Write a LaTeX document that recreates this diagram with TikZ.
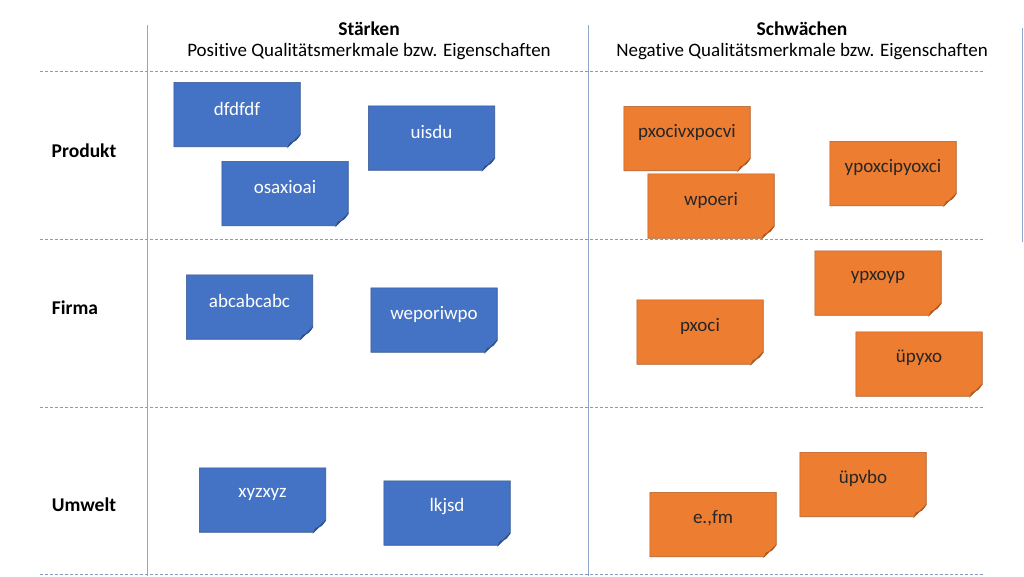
\documentclass[tikz,border=0pt]{standalone}
\usepackage{fontspec}
\setmainfont{Carlito}[Ligatures=NoCommon]
\definecolor{nblue}{HTML}{4472C4}
\definecolor{nbluedark}{HTML}{2F528F}
\definecolor{norange}{HTML}{ED7D31}
\definecolor{norangedark}{HTML}{AE5A21}
\definecolor{gridline}{HTML}{8EA6CC}
\definecolor{dashline}{HTML}{8C9CB4}
\newcommand\notebox[7]{%
  \node[notebase] (#1) at (#2,#3) {};
  \filldraw[fill=#5, draw=#6, line width=0.6pt] (#1.north west) -- (#1.north east) -- ([yshift=12pt]#1.south east) -- ([xshift=-12pt]#1.south east) -- (#1.south west) -- cycle;
  \filldraw[fill=#6, draw=#6, line width=0.6pt] ([xshift=-12pt]#1.south east) -- ([yshift=12pt]#1.south east) .. controls ([xshift=-4pt,yshift=6pt]#1.south east) .. ([xshift=-10pt,yshift=4pt]#1.south east) -- cycle;
  \node[text=#7, font=\fontsize{19}{21}\selectfont] at ([yshift=6pt]#1.center) {#4};
}
\begin{document}
\begin{tikzpicture}[x=1pt, y=-1pt,
  notebase/.style={minimum width=126pt, minimum height=64pt, inner sep=0pt, draw=none},
  vline/.style={draw=gridline, line width=0.8pt},
  hline/.style={draw=dashline, line width=0.6pt, dash pattern=on 3pt off 2pt},
  rowlabel/.style={font=\fontsize{19.5}{21}\selectfont\bfseries},
  headtitle/.style={font=\fontsize{19.5}{21}\selectfont\bfseries},
  headsub/.style={font=\fontsize{19}{21}\selectfont}]
\useasboundingbox (0,0) rectangle (1024,576);
\fill[white] (0,0) rectangle (1024,576);
% grid
\coordinate (h1a) at (40,71);   \coordinate (h1b) at (985,71);
\coordinate (h2a) at (40,239);  \coordinate (h2b) at (985,239);
\coordinate (h3a) at (40,407);  \coordinate (h3b) at (985,407);
\coordinate (h4a) at (40,574);  \coordinate (h4b) at (985,574);
\draw[hline] (h1a) -- (h1b);
\draw[hline] (h2a) -- (h2b);
\draw[hline] (h3a) -- (h3b);
\draw[hline] (h4a) -- (h4b);
\coordinate (v1a) at (147,25);  \coordinate (v1b) at (147,576);
\coordinate (v2a) at (588,25);  \coordinate (v2b) at (588,576);
\coordinate (v3a) at (1022,28); \coordinate (v3b) at (1022,242);
\draw[vline] (v1a) -- (v1b);
\draw[vline] (v2a) -- (v2b);
\draw[vline] (v3a) -- (v3b);
% headers
\node[headtitle] (st) at (369,29) {Stärken};
\node[headsub] (stsub) at (369,52) {Positive Qualitätsmerkmale bzw. Eigenschaften};
\node[headtitle] (sw) at (802,29) {Schwächen};
\node[headsub] (swsub) at (802,52) {Negative Qualitätsmerkmale bzw. Eigenschaften};
% row labels
\node[rowlabel] (produkt) at (84,151) {Produkt};
\node[rowlabel] (firma) at (75,308) {Firma};
\node[rowlabel] (umwelt) at (84,505) {Umwelt};
% blue notes
\notebox{b1}{237}{114.5}{dfdfdf}{nblue}{nbluedark}{white}
\notebox{b2}{285}{193.5}{osaxioai}{nblue}{nbluedark}{white}
\notebox{b3}{431.5}{138}{uisdu}{nblue}{nbluedark}{white}
\notebox{b4}{249.5}{307}{abcabcabc}{nblue}{nbluedark}{white}
\notebox{b5}{434}{320}{weporiwpo}{nblue}{nbluedark}{white}
\notebox{b6}{262.5}{500}{xyzxyz}{nblue}{nbluedark}{white}
\notebox{b7}{447}{513}{lkjsd}{nblue}{nbluedark}{white}
% orange notes
\notebox{o1}{687}{138.5}{pxocivxpocvi}{norange}{norangedark}{black!85}
\notebox{o2}{711}{206}{wpoeri}{norange}{norangedark}{black!85}
\notebox{o3}{893}{173.5}{ypoxcipyoxci}{norange}{norangedark}{black!85}
\notebox{o4}{878}{283}{ypxoyp}{norange}{norangedark}{black!85}
\notebox{o5}{700}{332}{pxoci}{norange}{norangedark}{black!85}
\notebox{o6}{919}{364}{üpyxo}{norange}{norangedark}{black!85}
\notebox{o7}{863}{484.5}{üpvbo}{norange}{norangedark}{black!85}
\notebox{o8}{713}{524.5}{e.,fm}{norange}{norangedark}{black!85}
\end{tikzpicture}
\end{document}
